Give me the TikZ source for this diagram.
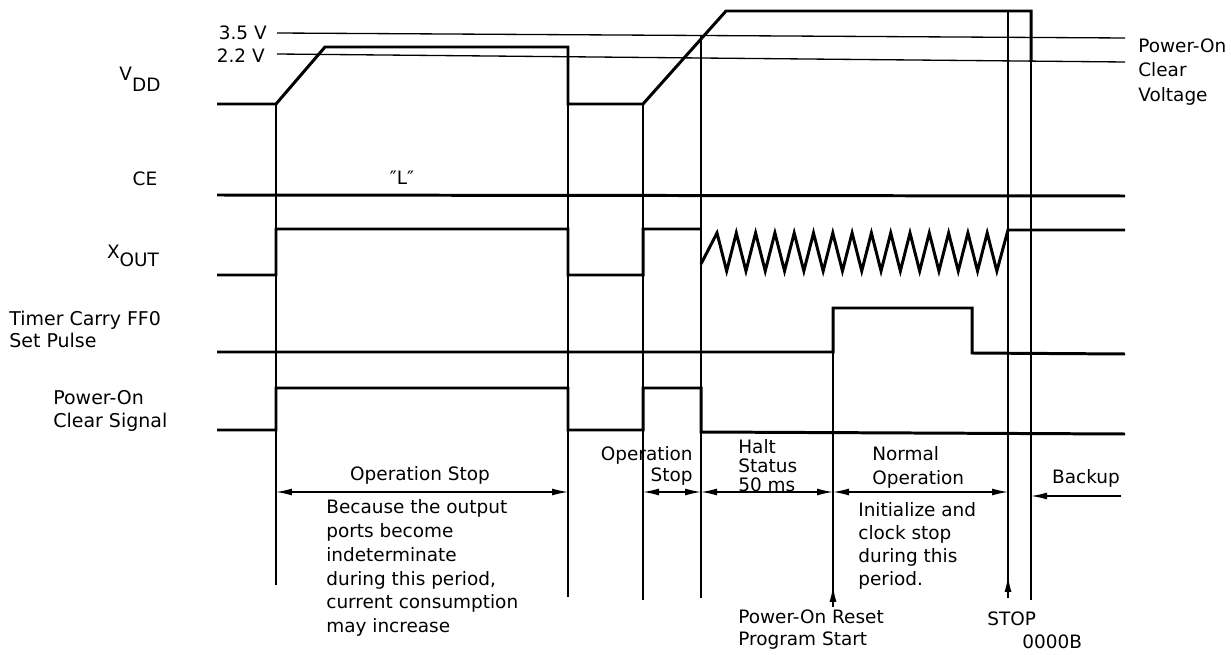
\documentclass[tikz,border=0pt]{standalone}
\usepackage{fontspec}
\setmainfont{DejaVu Sans}
\usepackage{tikz}
\usetikzlibrary{arrows.meta,positioning}
\newcommand\signame[3]{#1\raisebox{-#3}{#2}}
\tikzset{
  sig/.style   ={line width=1.7pt, line join=miter},
  guide/.style ={line width=0.75pt},
  span/.style  ={{Latex[length=3.2mm,width=1.4mm]}-{Latex[length=3.2mm,width=1.4mm]}, line width=0.75pt},
  uparrow/.style={-{Latex[length=3.2mm,width=1.4mm]}, line width=0.75pt},
  lbl/.style   ={inner sep=0pt, align=left, font=\fontsize{10.5}{13.6}\selectfont},
  rlbl/.style  ={inner sep=0pt, align=right, font=\fontsize{10.5}{12}\selectfont}
}
\begin{document}
\begin{tikzpicture}[x=0.02cm, y=-0.02cm]
\useasboundingbox (0,0) rectangle (1231,655);
\def\xs{217}\def\xe{1125}
\def\tA{276}\def\tB{568}\def\tC{643}\def\tD{701}\def\tE{833}\def\tF{1008}\def\tG{1031}
% threshold lines
\draw[guide] (277,33) -- (\xe,38);
\draw[guide] (277,54) -- (\xe,62);
\node[lbl, anchor=east] (th35) at (267,33) {3.5 V};
\node[lbl, anchor=east] (th22) at (265,56) {2.2 V};
\node[lbl, anchor=west, font=\fontsize{10.5}{14}\selectfont] (pocv) at (1138,72) {Power-On\\Clear\\Voltage};
% signal names
\node[lbl] (vdd) at (140,79) {\signame{V}{DD}{0.62em}};
\node[lbl] (ce) at (145,179) {CE};
\node[lbl] (xout) at (133,256) {\signame{X}{OUT}{0.45em}};
\node[lbl, anchor=west, font=\fontsize{10.8}{12.5}\selectfont] (ff0) at (9,329) {Timer Carry FF0\\Set Pulse};
\node[lbl, anchor=west, font=\fontsize{10.8}{13}\selectfont] (pocs) at (53,411) {Power-On\\Clear Signal};
\node[lbl] (lo) at (402,178) {\char"2033L\char"2033};
% waveforms
\draw[sig] (\xs,104) -- (\tA,104) -- (325,47) -- (\tB,47) -- (\tB,104) -- (\tC,104) -- (726,11) -- (\tG,11) -- (\tG,61);
\draw[sig] (\xs,195) -- (\xe,196);
\draw[sig] (\xs,275) -- (\tA,275) -- (\tA,229) -- (\tB,229) -- (\tB,275) -- (\tC,275) -- (\tC,229) -- (\tD,229)
  (\tD,264) \foreach \k in {0,...,14}{ -- ({717+19.3*\k},233) -- ({726.65+19.3*\k},271) } -- (\tF,230) -- (\xe,230);
\draw[sig] (\xs,352) -- (\tE,352) -- (\tE,308) -- (972,308) -- (972,353) -- (\xe,354);
\draw[sig] (\xs,430) -- (\tA,430) -- (\tA,388) -- (\tB,388) -- (\tB,430) -- (\tC,430) -- (\tC,388) -- (\tD,388) -- (\tD,432) -- (\xe,434);
% time markers
\draw[guide] (\tA,104) -- (\tA,585);
\draw[guide] (\tB,47) -- (\tB,597);
\draw[guide] (\tC,104) -- (\tC,600);
\draw[guide] (\tD,35) -- (\tD,598);
\draw[guide] (\tE,308) -- (\tE,607);
\draw[guide] (\tF,11) -- (\tF,598);
\draw[guide] (\tG,11) -- (\tG,600);
\draw[uparrow] (\tE,607) -- (\tE,586);
\draw[uparrow] (\tF,598) -- (\tF,576);
% periods
\draw[span] (\tA,492) -- (\tB,492);
\draw[span] (\tC,492) -- (\tD,492);
\draw[span] (\tD,492) -- (\tE,492);
\draw[span] (\tE,492) -- (\tF,492);
\draw[uparrow] (1121,496) -- (\tG,496);
\node[lbl] (opstop) at (420,475) {Operation Stop};
\node[lbl, anchor=north west] (because) at (326,499) {Because the output\\ports become\\indeterminate\\during this period,\\current consumption\\may increase};
\node[rlbl, anchor=east] (opstop2) at (693,466) {Operation\\Stop};
\node[lbl, anchor=west, font=\fontsize{10.5}{10.8}\selectfont] (halt) at (738,466) {Halt\\Status\\50 ms};
\node[lbl, anchor=west] (normal) at (872,467) {Normal\\Operation};
\node[lbl, anchor=north west, font=\fontsize{10.5}{13.2}\selectfont] (init) at (858,502) {Initialize and\\clock stop\\during this\\period.};
\node[lbl] (backup) at (1086,478) {Backup};
\node[lbl, anchor=west, font=\fontsize{10.5}{12.5}\selectfont] (reset) at (738,630) {Power-On Reset\\Program Start};
\node[lbl, anchor=west] (stop) at (987,619) {STOP};
\node[lbl, anchor=west] (vec) at (1022,642) {0000B};
\end{tikzpicture}
\end{document}
